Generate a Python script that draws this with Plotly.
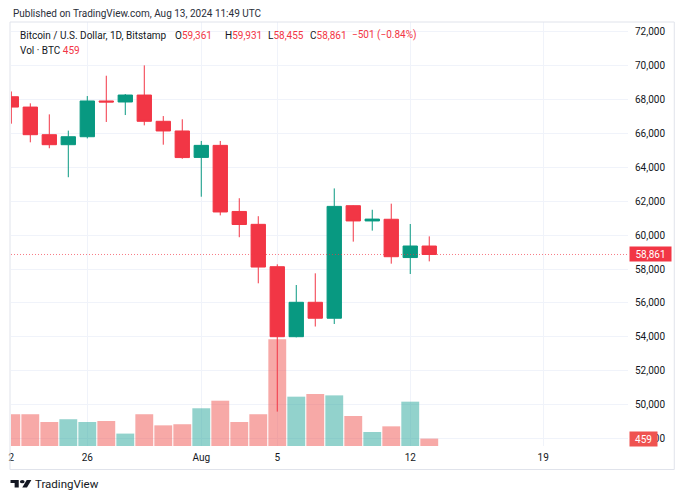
import plotly.graph_objects as go
import pandas as pd

# ---------------- data ----------------
dates = pd.date_range("2024-07-22", "2024-08-13", freq="D")
opens = [68170, 67560, 65930, 65340, 65810, 67920, 67860, 68270, 66720, 66150, 64590, 65300,
         61400, 60640, 58140, 54010, 56040, 55100, 61740, 60840, 60940, 58680, 59361]
highs = [68480, 67780, 67130, 66170, 68210, 69410, 68330, 70020, 67030, 66840, 65560, 65560,
         62180, 61120, 58280, 57060, 57750, 62760, 61760, 61500, 61860, 60660, 59931]
lows = [66580, 65480, 65130, 63420, 65710, 66680, 67090, 66480, 65340, 64510, 62270, 61170,
        59880, 57160, 49590, 53970, 54610, 54760, 59620, 60270, 58320, 57710, 58455]
closes = [67560, 65930, 65340, 65810, 67920, 67860, 68270, 66720, 66150, 64580, 65300, 61370,
          60630, 58120, 54010, 56040, 55100, 61700, 60840, 60950, 58730, 59362, 58861]
volumes = [1970, 1970, 1490, 1660, 1490, 1550, 770, 1970, 1280, 1350, 2340, 2810,
           1490, 1970, 6620, 3060, 3220, 3140, 1860, 870, 1220, 2750, 459]

x_tick_vals = ["2024-07-22", "2024-07-26", "2024-08-01", "2024-08-05", "2024-08-12", "2024-08-19"]
x_tick_text = ["2", "26", "Aug", "5", "12", "19"]
price_ticks = list(range(48000, 72001, 2000))

symbol_title = "Bitcoin / U.S. Dollar, 1D, Bitstamp"
volume_title = "Vol · BTC"
published = "Published on TradingView.com, Aug 13, 2024 11:49 UTC"
brand = "TradingView"

# ---------------- style / geometry ----------------
W, H = 683, 500
L, R, T, B = 8, 55, 22, 54
PW, PH = W - L - R, H - T - B


def px(x):
    return (x - L) / PW


def py(y):
    return 1 - (y - T) / PH


UP, DOWN = "#089981", "#F23645"
VOL_UP, VOL_DOWN = "rgba(38,166,154,0.5)", "rgba(239,83,80,0.5)"
GRID = "#F0F3FA"
TXT = "#131722"
FONT = "Roboto"
FS = 10

vol_colors = [VOL_UP if c >= o else VOL_DOWN for o, c in zip(opens, closes)]

fig = go.Figure()
fig.add_trace(go.Bar(
    x=dates, y=volumes, marker=dict(color=vol_colors, line=dict(width=0)),
    width=0.94 * 86400000, yaxis="y", showlegend=False, hoverinfo="skip"))
fig.add_trace(go.Candlestick(
    x=dates, open=opens, high=highs, low=lows, close=closes, yaxis="y2",
    increasing=dict(line=dict(color=UP, width=1), fillcolor=UP),
    decreasing=dict(line=dict(color=DOWN, width=1), fillcolor=DOWN),
    whiskerwidth=0, showlegend=False, hoverinfo="skip"))

last_o, last_h, last_l, last_c = opens[-1], highs[-1], lows[-1], closes[-1]
chg = last_c - closes[-2]
pct = chg / closes[-2] * 100


def sgn(v, fmt):
    s = format(abs(v), fmt)
    return ("\u2212" + s) if v < 0 else ("+" + s)


val_col = DOWN if chg < 0 else UP
annotations = []


def ann(x, y, text, size=FS, color=TXT, **kw):
    d = dict(xref="paper", yref="paper", x=px(x), y=py(y), text=text, showarrow=False,
             xanchor="left", yanchor="middle", font=dict(family=FONT, size=size, color=color))
    d.update(kw)
    annotations.append(d)


ann(8, 13.5, published, size=10, color="#2a2e39")
ann(15, 35.5, symbol_title)
for xpos, lab, v in [(171, "O", last_o), (221, "H", last_h), (264, "L", last_l), (306, "C", last_c)]:
    ann(xpos, 35.5, f"{lab}<span style='color:{val_col}'>{v:,}</span>")
ann(348.5, 35.5, f"{sgn(chg, ',')} ({sgn(pct, '.2f')}%)", color=val_col)
ann(15, 50.5, f"{volume_title} <span style='color:{val_col}'>{volumes[-1]:,}</span>")
ann(30, 484, brand, size=11.5, color=TXT)

# last price label
annotations.append(dict(xref="paper", yref="y2", x=1, y=last_c, text=f"{last_c:,}", showarrow=False,
                        xanchor="left", yanchor="middle", xshift=0.5, bgcolor=DOWN, width=39, height=12,
                        borderpad=1, font=dict(family=FONT, size=FS, color="white")))
# last volume label
annotations.append(dict(xref="paper", yref="y", x=1, y=volumes[-1], text=f"{volumes[-1]:,}", showarrow=False,
                        xanchor="left", yanchor="middle", xshift=1, bgcolor="#EF5350", width=25, height=12,
                        borderpad=1, font=dict(family=FONT, size=FS, color="white")))

shapes = [
    dict(type="line", xref="paper", yref="y2", x0=0, x1=1, y0=last_c, y1=last_c,
         line=dict(color="rgba(242,54,69,0.65)", width=1, dash="1px,2px")),
    dict(type="rect", xref="paper", yref="paper", x0=px(7), x1=px(674.5), y0=py(469.5), y1=py(22),
         line=dict(color="#E0E3EB", width=1), fillcolor="rgba(0,0,0,0)", layer="above"),
]

# TradingView logo (svg 36x28, content x 0..35.5, y 4..22)
LX0, LX1, LY0, LY1 = 7.5, 28.5, 480, 487.5
sx, sy = (LX1 - LX0) / 35.5, (LY1 - LY0) / 18.0


def lp(x, y):
    return f"{px(LX0 + x * sx):.5f},{py(LY0 + (y - 4) * sy):.5f}"


t_path = "M" + " L".join(lp(*p) for p in [(14, 22), (7, 22), (7, 11), (0, 11), (0, 4), (14, 4)]) + " Z"
v_path = "M" + " L".join(lp(*p) for p in [(28, 22), (20, 22), (27.5, 4), (35.5, 4)]) + " Z"
for pth in (t_path, v_path):
    shapes.append(dict(type="path", xref="paper", yref="paper", path=pth,
                       fillcolor=TXT, line=dict(width=0)))
shapes.append(dict(type="circle", xref="paper", yref="paper",
                   x0=px(LX0 + 16 * sx), x1=px(LX0 + 24 * sx),
                   y0=py(LY0 + 8 * sy), y1=py(LY0 + 0 * sy), fillcolor=TXT, line=dict(width=0)))

fig.update_layout(
    width=W, height=H, margin=dict(l=L, r=R, t=T, b=B, pad=0),
    paper_bgcolor="white", plot_bgcolor="white",
    font=dict(family=FONT, size=FS, color=TXT),
    boxgap=0.245, boxgroupgap=0, barmode="overlay",
    xaxis=dict(type="date", range=["2024-07-21 23:37", "2024-08-23 11:05"],
               tickvals=x_tick_vals, ticktext=x_tick_text,
               showgrid=True, gridcolor=GRID, gridwidth=1, zeroline=False, showline=False,
               ticks="outside", ticklen=2, tickcolor="rgba(0,0,0,0)",
               tickfont=dict(family=FONT, size=FS, color=TXT),
               rangeslider=dict(visible=False), fixedrange=True),
    yaxis=dict(range=[0, 26300], visible=False, fixedrange=True),
    yaxis2=dict(overlaying="y", side="right", range=[47560, 72580], tickvals=price_ticks,
                tickformat=",", showgrid=True, gridcolor=GRID, gridwidth=1, zeroline=False,
                showline=False, ticks="outside", ticklen=4, tickcolor="rgba(0,0,0,0)",
                tickfont=dict(family=FONT, size=FS, color=TXT), fixedrange=True),
    annotations=annotations, shapes=shapes, showlegend=False,
)

fig.write_html("out.html")
